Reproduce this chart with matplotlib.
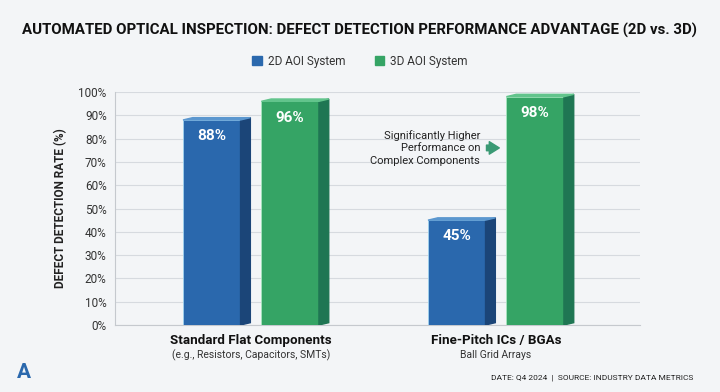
import numpy as np
import matplotlib
matplotlib.use("Agg")
import matplotlib.pyplot as plt
from matplotlib.patches import Polygon

plt.rcParams['font.family'] = ['Roboto', 'DejaVu Sans']

categories = ['Standard Flat Components', 'Fine-Pitch ICs / BGAs']
subtitles = ['(e.g., Resistors, Capacitors, SMTs)', 'Ball Grid Arrays']
rate_2d = [88, 45]
rate_3d = [96, 98]
series = ['2D AOI System', '3D AOI System']
yticks = [0, 10, 20, 30, 40, 50, 60, 70, 80, 90, 100]

front = {'2d': '#2a68ad', '3d': '#35a465'}
side = {'2d': '#1b4578', '3d': '#1f7653'}
top = {'2d': '#5b97cf', '3d': '#62c48c'}

fig = plt.figure(figsize=(7.2, 3.92), dpi=100)
fig.patch.set_facecolor('#f3f5f7')
ax = fig.add_axes([115/720, 1-325/392, 525/720, 233/392])
ax.set_facecolor('none')

x = np.arange(len(categories))
w = 0.235
off = 0.16
depth = 0.04   # side face width in data units
rise = 1.0     # top face rise in %

def draw_bars(xs, vals, key):
    bars = ax.bar(xs, vals, width=w, color=front[key], edgecolor='#9fd3f0' if key == '2d' else '#a8e6c0',
                  linewidth=0.6, zorder=3)
    for b in bars:
        x0 = b.get_x() + b.get_width()
        h = b.get_height()
        ax.add_patch(Polygon([[x0, 0], [x0 + depth, rise], [x0 + depth, h + rise], [x0, h]],
                             closed=True, color=side[key], zorder=3))
        ax.add_patch(Polygon([[b.get_x(), h], [x0, h], [x0 + depth, h + rise], [b.get_x() + depth, h + rise]],
                             closed=True, color=top[key], zorder=3))
        ax.text(b.get_x() + b.get_width()/2, h - 7, f'{h:.0f}%', ha='center', va='center',
                color='white', fontsize=11, fontweight='bold', zorder=4)
    return bars

draw_bars(x - off, rate_2d, '2d')
draw_bars(x + off, rate_3d, '3d')

ax.set_xlim(-0.555, 1.588)
ax.set_ylim(0, 100)
ax.set_yticks(yticks)
ax.set_yticklabels([f'{t}%' for t in yticks], fontsize=8.5, color='#333333')
ax.grid(axis='y', color='#d6dadf', linewidth=0.8, zorder=0)
ax.set_xticks([])
for s in ['top', 'right']:
    ax.spines[s].set_visible(False)
ax.spines['left'].set_color('#c5c9ce')
ax.spines['bottom'].set_color('#c5c9ce')
ax.tick_params(axis='y', length=0, pad=6)
ax.set_ylabel('DEFECT DETECTION RATE (%)', fontsize=8.5, fontweight='bold', color='#222222', labelpad=8)

for i, (c, s) in enumerate(zip(categories, subtitles)):
    ax.text(x[i], -6.5, c, ha='center', va='center', fontsize=9.6, fontweight='bold',
            color='#111111', clip_on=False)
    ax.text(x[i], -13, s, ha='center', va='center', fontsize=7.5, color='#333333', clip_on=False)

# annotation
ax.text(0.935, 76, 'Significantly Higher\nPerformance on\nComplex Components', ha='right', va='center',
        fontsize=8, color='#222222', linespacing=1.3)
ax.annotate('', xy=(1.025, 76), xytext=(0.95, 76),
            arrowprops=dict(arrowstyle='simple,head_length=0.8,head_width=1.0,tail_width=0.45',
                            color='#3a9a74', mutation_scale=9))

fig.text(0.5, 1-30/392, 'AUTOMATED OPTICAL INSPECTION: DEFECT DETECTION PERFORMANCE ADVANTAGE (2D vs. 3D)',
         ha='center', va='center', fontsize=10.8, fontweight='bold', color='#111111')

# legend
handles = [plt.Rectangle((0, 0), 1, 1, color=front['2d']), plt.Rectangle((0, 0), 1, 1, color=front['3d'])]
fig.legend(handles, series, loc='center', bbox_to_anchor=(0.5, 1-61/392), ncol=2, frameon=False,
           fontsize=8.5, handlelength=0.8, handleheight=0.8, columnspacing=2.5, handletextpad=0.5,
           labelcolor='#333333')

fig.text(693/720, 1-378/392, 'DATE: Q4 2024  |  SOURCE: INDUSTRY DATA METRICS', ha='right', va='center',
         fontsize=6, color='#222222')
fig.text(24/720, 1-373/392, 'A', ha='center', va='center', fontsize=15, fontweight='bold', color='#2a68ad')

fig.savefig('out.png', dpi=100, facecolor=fig.get_facecolor())
